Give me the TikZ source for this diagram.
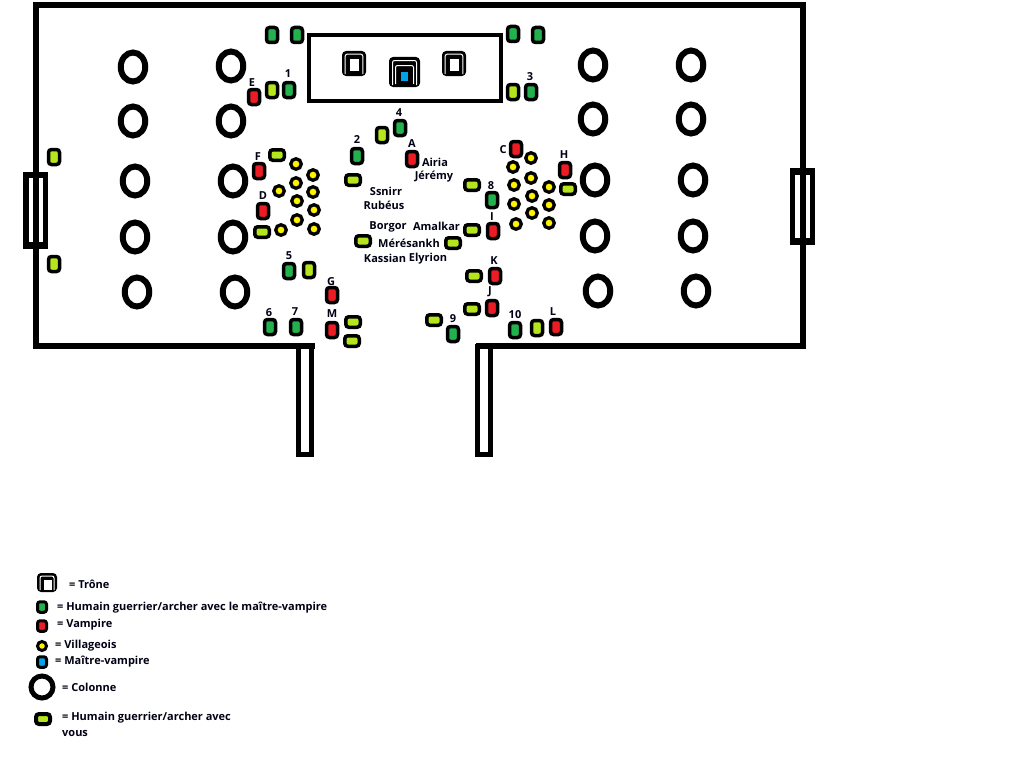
\documentclass[tikz,border=0pt]{standalone}
\usepackage{fontspec}
\setmainfont{Open Sans}[BoldFont={Open Sans Bold}]
\usetikzlibrary{shapes.geometric}
\definecolor{dg}{RGB}{34,177,76}
\definecolor{lg}{RGB}{181,230,29}
\definecolor{rd}{RGB}{237,28,36}
\definecolor{yl}{RGB}{255,242,0}
\definecolor{bl}{RGB}{0,162,232}
\tikzset{x=1pt,y=-1pt,
 unit/.style={draw=black,line width=3.5pt,rounded corners=3pt,inner sep=0pt,outer sep=0pt},
 gv/.style={unit,fill=dg,minimum width=11pt,minimum height=15pt},
 lv/.style={unit,fill=lg,minimum width=11pt,minimum height=15pt},
 lh/.style={unit,fill=lg,minimum width=14.5pt,minimum height=10.5pt},
 rv/.style={unit,fill=rd,minimum width=11pt,minimum height=15pt},
 leg unit/.style={draw=black,line width=3pt,rounded corners=2.5pt,inner sep=0pt,outer sep=0pt,minimum width=9pt,minimum height=10.5pt},
 blu/.style={fill=bl,inner sep=0pt,outer sep=0pt,minimum width=7.5pt,minimum height=9.5pt},
 vil/.style={circle,draw=black,line width=3.3pt,fill=yl,inner sep=0pt,outer sep=0pt,minimum size=10.5pt},
 col/.style={ellipse,draw=black,line width=6pt,fill=white,inner sep=0pt,outer sep=0pt,minimum width=24.5pt,minimum height=29pt},
 wall/.style={draw=black,line width=6pt,line cap=rect,fill=none},
 corridor/.style={draw=black,line width=5pt,fill=white},
 lab/.style={font=\bfseries\fontsize{11}{13}\selectfont,text=black!92!blue,inner sep=0pt},
 leg/.style={lab,anchor=west},
}
\newcommand{\thronepic}[5]{% x y halfwidth halfheight ring
 \fill[black,rounded corners=4pt] (#1-#3,#2-#4) rectangle (#1+#3,#2+#4);
 \draw[white,line width=1pt,rounded corners=2pt] (#1-#3+#5,#2+#4-2) -- (#1-#3+#5,#2-#4+#5) -- (#1+#3-#5,#2-#4+#5) -- (#1+#3-#5,#2+#4-2);
}
\begin{document}
\begin{tikzpicture}
\useasboundingbox (0,0) rectangle (1024,768);
\fill[white] (0,0) rectangle (1024,768);
% hall
\draw[corridor] (298.5,346) rectangle (311.5,454.5);
\draw[corridor] (477.5,346) rectangle (490.5,454.5);
\draw[wall] (311.5,346) -- (36,346) -- (36,5) -- (803,5) -- (803,346) -- (478.5,346);
% doors
\fill[black] (23,172) rectangle (48,249);
\fill[white] (29,178) rectangle (33,242);
\fill[white] (39,178) rectangle (43,242);
\fill[black] (790,168) rectangle (815,245);
\fill[white] (795,174.5) rectangle (800,238);
\fill[white] (806,174.5) rectangle (810,238);
% dais
\draw[draw=black,line width=4.5pt] (309.2,35.2) rectangle (500.8,100.8);
\thronepic{354}{63.5}{12}{12.5}{3.2}
\fill[white] (349.5,59) rectangle (358.5,71);
\thronepic{454}{63.5}{12}{12.5}{3.2}
\fill[white] (449.5,59) rectangle (458.5,71);
\thronepic{404.5}{72}{15.5}{15}{3.5}
\draw[white,line width=1pt,rounded corners=2pt] (395.5,84) -- (395.5,65.5) -- (413.5,65.5) -- (413.5,84);
\node[blu] (master) at (404.5,76.5) {};
% columns
\foreach \n/\x/\y in {1/133/67,2/231/66,3/593/65,4/691/65,5/133/121,6/231/121,7/593/119,8/691/119,9/135/181,10/233/181,11/595/180,12/693/180,13/135/237,14/233/237,15/595/236,16/693/236,17/137/292,18/235/292,19/598/291,20/696/291}
 \node[col] (col\n) at (\x,\y) {};
% green
\foreach \n/\x/\y in {1/272/35,2/297/35,3/513/34,4/538/35,5/289/90,6/531/92,7/400/128,8/357/156,9/492/200,10/289/271,11/270/327,12/296/327,13/453/334,14/515/330}
 \node[gv] (g\n) at (\x,\y) {};
% light vertical
\foreach \n/\x/\y in {1/272/90,2/513/92,3/382/135,4/309/270,5/537/328,6/54/157,7/54/264}
 \node[lv] (lv\n) at (\x,\y) {};
% light horizontal
\foreach \n/\x/\y in {1/277/155,2/353/180,3/472/185,4/568/189,5/262/232,6/472/230,7/363/241,8/453/243,9/474/276,10/472/309,11/434/320,12/353/322,13/352/341}
 \node[lh] (lh\n) at (\x,\y) {};
% vampires
\foreach \n/\x/\y in {1/254/97,2/412/159,3/516/149,4/259/171,5/263/211,6/565/170,7/493/231,8/495/276,9/492/308,10/332/295,11/332/330,12/556/327}
 \node[rv] (r\n) at (\x,\y) {};
% villagers
\foreach \n/\x/\y in {1/296/164,2/313/175,3/296/183,4/279/191,5/313/192,6/297/201,7/314/210,8/297/220,9/314/229,10/281/230,11/531/158,12/513/167,13/531/178,14/514/185,15/549/187,16/532/196,17/514/204,18/549/205,19/532/213,20/549/223,21/516/224}
 \node[vil] (v\n) at (\x,\y) {};
% labels
\foreach \n/\t/\x/\y in {a/E/252/83,b/1/288/74,c/3/530/77,d/4/399/113,e/2/357/140,f/A/412/144,g/C/503/150,h/H/564/155,i/F/258/157,j/D/263/196,k/8/491/186,l/I/492/217,m/5/289/256,n/G/331/282,o/K/494/261,p/J/490/292,q/M/332/314,r/6/269/313,s/7/295/312,t/9/453/319,u/10/515/315,v/L/553/312,w/Airia/435/162,x/Jérémy/434/177,y/Ssnirr/386/191.5,z/Rubéus/384/205.5,aa/Borgor/388/227,ab/Amalkar/436.5/226,ac/Mérésankh/409/243.5,ad/Kassian/385/258.5,ae/Elyrion/428/258.5}
 \node[lab] (t\n) at (\x,\y) {\t};
% legend
\thronepic{47}{582.5}{10}{9.5}{3}
\fill[white] (43.5,580) rectangle (51.5,590);
\node[leg unit,fill=dg] (lg1) at (42,607) {};
\node[leg unit,fill=rd] (lg2) at (42,626) {};
\node[vil,line width=3pt,minimum size=9pt] (lg3) at (42,646) {};
\node[leg unit,fill=bl] (lg4) at (42,662) {};
\node[col,line width=5pt,minimum width=22pt,minimum height=22pt] (lg5) at (42,687) {};
\node[lh,line width=4pt,minimum width=14pt,minimum height=10pt] (lg6) at (43,719) {};
\node[leg] (l1) at (69,584) {= Trône};
\node[leg] (l2) at (57,608) {= Humain guerrier/archer avec le maître-vampire};
\node[leg] (l3) at (57,625) {= Vampire};
\node[leg] (l4) at (55,646) {= Villageois};
\node[leg] (l5) at (55,662) {= Maître-vampire};
\node[leg] (l6) at (62,687) {= Colonne};
\node[leg] (l7) at (62,718) {= Humain guerrier/archer avec};
\node[leg] (l8) at (62,733) {vous};
\end{tikzpicture}
\end{document}
